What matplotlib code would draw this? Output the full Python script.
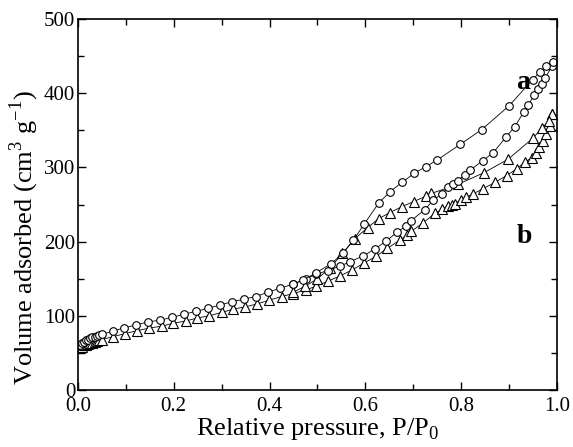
import numpy as np
import matplotlib.pyplot as plt
from matplotlib.ticker import MultipleLocator

plt.rcParams['font.family'] = 'Liberation Serif'
plt.rcParams['mathtext.fontset'] = 'custom'
plt.rcParams['mathtext.rm'] = 'Liberation Serif'

# sample a (circles)
a_ads_x = [0.004, 0.008, 0.012, 0.016, 0.02, 0.025, 0.03, 0.035, 0.04, 0.045, 0.05,
           0.074, 0.097, 0.121, 0.147, 0.171, 0.197, 0.221, 0.246, 0.272, 0.296,
           0.322, 0.347, 0.372, 0.397, 0.422, 0.45, 0.477, 0.497, 0.522, 0.547,
           0.569, 0.596, 0.62, 0.644, 0.667, 0.685, 0.695, 0.724, 0.742, 0.759,
           0.773, 0.782, 0.793, 0.808, 0.818, 0.845, 0.867, 0.894, 0.912, 0.931,
           0.94, 0.953, 0.961, 0.969, 0.976, 0.989]
a_ads_y = [60, 63, 65, 67, 68, 70, 71, 72, 73, 74, 75,
           79.5, 84, 87.6, 92, 94, 98, 102, 106, 110, 114.5,
           119, 122.6, 126, 132, 137, 143, 150, 156, 161, 167,
           173, 181, 190, 201, 213, 221, 228, 243, 256, 264,
           273, 277, 282, 290, 296, 309, 320, 341, 355, 375,
           384, 398, 405, 413, 421, 436]
a_des_x = [0.992, 0.978, 0.965, 0.949, 0.9, 0.843, 0.798, 0.75, 0.726, 0.702,
           0.677, 0.651, 0.628, 0.598, 0.575, 0.553, 0.528, 0.497, 0.47, 0.45]
a_des_y = [442, 436, 429, 418, 383, 351, 331, 310, 301, 292,
           280, 267, 252, 224, 202, 184, 170, 158, 148, 143]

# sample b (triangles)
b_ads_x = [0.004, 0.008, 0.012, 0.016, 0.02, 0.025, 0.03, 0.035, 0.04, 0.045, 0.05,
           0.074, 0.098, 0.124, 0.149, 0.175, 0.199, 0.225, 0.249, 0.274, 0.3,
           0.324, 0.349, 0.374, 0.399, 0.425, 0.45, 0.476, 0.498, 0.523, 0.548,
           0.573, 0.597, 0.622, 0.646, 0.672, 0.688, 0.696, 0.72, 0.745, 0.761,
           0.773, 0.78, 0.787, 0.799, 0.811, 0.824, 0.845, 0.871, 0.895, 0.916,
           0.933, 0.947, 0.956, 0.963, 0.971, 0.978, 0.985, 0.99]
b_ads_y = [56, 58, 60, 61, 62, 63, 64, 65, 66, 67, 68,
           72, 76, 80, 83.5, 86, 90, 93, 97, 100, 104.5,
           109, 112, 116, 121, 126, 130, 135, 140, 147, 154,
           162, 171, 180, 191, 202, 209, 214, 225, 238, 244,
           248, 250, 251, 256, 260, 264, 271, 280, 289, 298,
           307, 313, 320, 328, 336, 345, 356, 372]
b_des_x = [0.99, 0.983, 0.968, 0.951, 0.898, 0.848, 0.793, 0.738, 0.726, 0.701,
           0.676, 0.651, 0.628, 0.605, 0.578, 0.552, 0.527, 0.5, 0.475, 0.45]
b_des_y = [372, 362, 353, 340, 311, 293, 277, 265, 261, 254,
           247, 239, 231, 219, 204, 184, 165, 150, 140, 132]

fig = plt.figure(figsize=(5.73, 4.47), dpi=100)
ax = fig.add_axes([0.136, 0.1275, 0.836, 0.83])

circ = dict(marker='o', ms=5.5, mfc='white', mec='black', mew=0.8,
            color='black', lw=0.6)
tri = dict(marker='^', ms=7, mfc='white', mec='black', mew=0.8,
           color='black', lw=0.6)
ax.plot(b_ads_x, b_ads_y, **tri)
ax.plot(b_des_x, b_des_y, **tri)
ax.plot(a_ads_x, a_ads_y, **circ)
ax.plot(a_des_x, a_des_y, **circ)

ax.text(0.915, 405, 'a', fontsize=20, fontweight='bold')
ax.text(0.915, 198, 'b', fontsize=20, fontweight='bold')

ax.set_xlim(0, 1.0)
ax.set_ylim(0, 500)
ax.xaxis.set_major_locator(MultipleLocator(0.2))
ax.xaxis.set_minor_locator(MultipleLocator(0.1))
ax.yaxis.set_major_locator(MultipleLocator(100))
ax.yaxis.set_minor_locator(MultipleLocator(50))
ax.xaxis.set_major_formatter(plt.FormatStrFormatter('%.1f'))
ax.tick_params(which='both', direction='in', top=True, right=True,
               labelsize=15, width=1, pad=2)
ax.tick_params(axis='x', pad=5)
ax.tick_params(which='major', length=6)
ax.tick_params(which='minor', length=4)
for s in ax.spines.values():
    s.set_linewidth(1.2)

ax.set_xlabel('Relative pressure, P/P$_0$', fontsize=19, labelpad=0)
ax.set_ylabel('Volume adsorbed (cm$^3$ g$^{-1}$)', fontsize=19)
ax.yaxis.set_label_coords(-0.077, 0.41)

fig.savefig('out.png', dpi=100)
